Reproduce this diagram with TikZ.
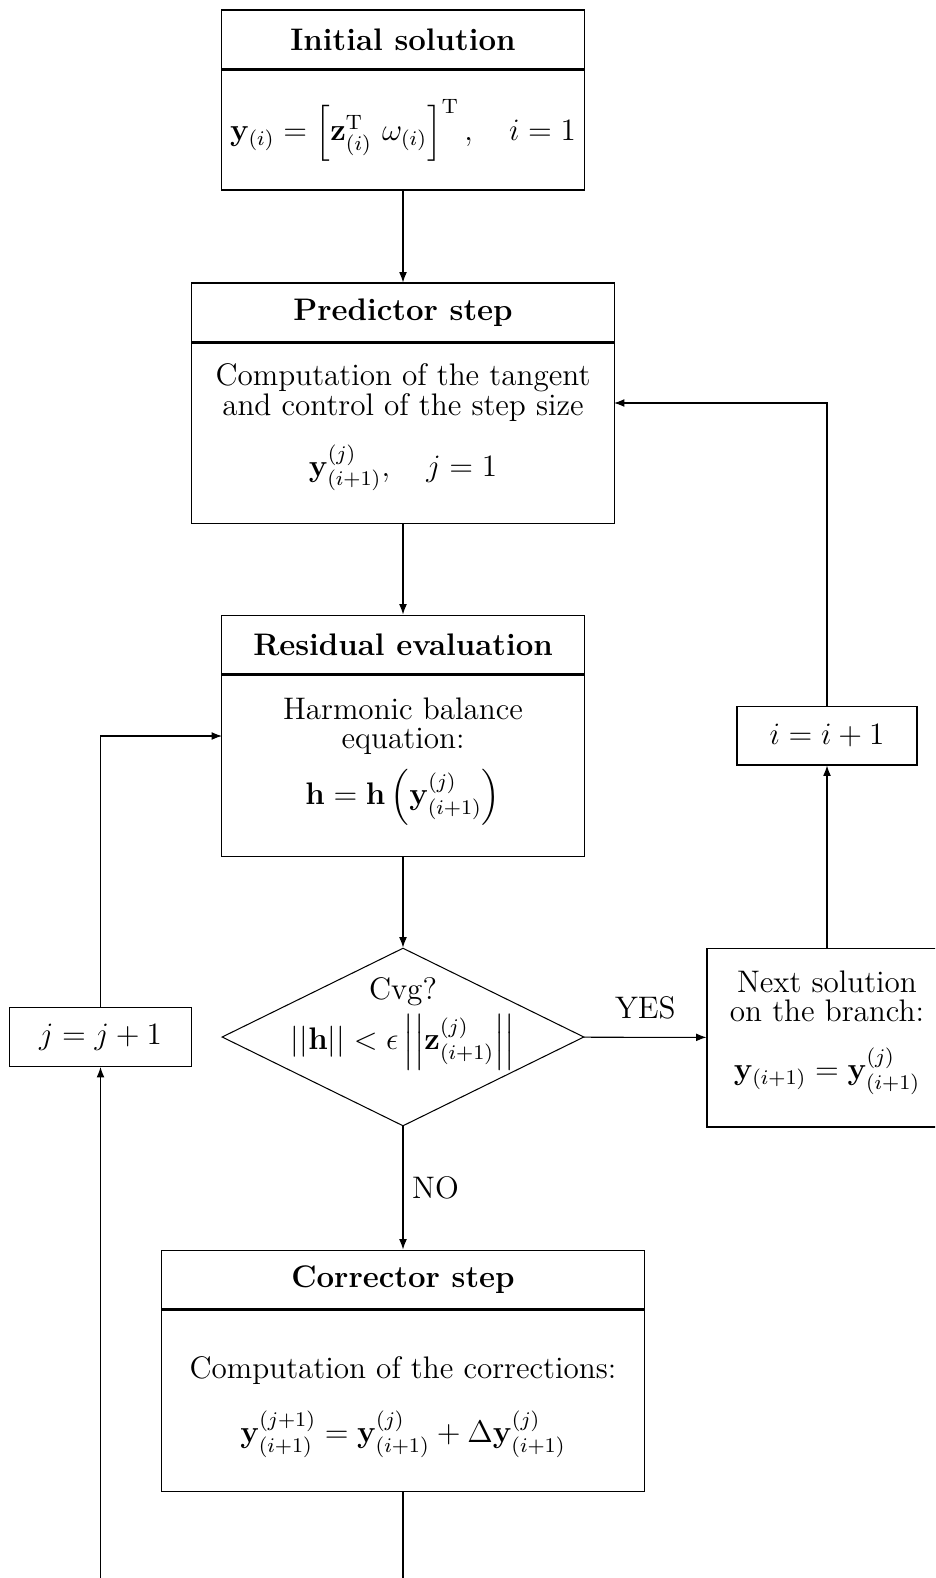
\documentclass[tikz,border=0pt]{standalone}
\usepackage{amsmath, amssymb}
\usetikzlibrary{shapes.geometric, positioning, arrows.meta}
\newcommand{\flowfont}{\fontsize{12}{11.2}\selectfont}
\tikzset{
	head/.style = {draw, minimum width=#1, minimum height=22.7pt, inner sep=0pt, font=\flowfont\bfseries},
	body/.style = {draw, minimum width=#1, align=center, inner sep=0pt},
	plain box/.style = {draw, minimum width=#1, minimum height=22.7pt, inner sep=0pt},
	decision/.style = {draw, diamond, minimum width=139.4pt, minimum height=68.5pt, inner sep=0pt},
	flow/.style = {draw, -{Latex[length=4pt, width=3pt]}},
}

\begin{document}
\begin{tikzpicture}[x=0.385pt, y=-0.385pt, font=\flowfont]
	\useasboundingbox (0, 0) rectangle (935, 1578);
	\clip (0, 0) rectangle (935, 1578);

	% main column
	\node[head=139.4pt] (initT) at (403, 39.5) {Initial solution};
	\node[body=139.4pt, minimum height=46.2pt, below=0pt of initT] (initB)
		{$\mathbf{y}_{(i)} = \left[\mathbf{z}^{\mathrm{T}}_{(i)}\ \omega_{(i)}\right]^{\mathrm{T}}, \quad i = 1$};

	\node[head=162.5pt] (predT) at (403, 312.5) {Predictor step};
	\node[body=162.5pt, minimum height=69.3pt, below=0pt of predT] (predB)
		{Computation of the tangent\\ and control of the step size\\[8pt]
		$\mathbf{y}^{(j)}_{(i+1)}, \quad j = 1$\rule[-10pt]{0pt}{10pt}};

	\node[head=139.4pt] (resT) at (403, 644.5) {Residual evaluation};
	\node[body=139.4pt, minimum height=69.7pt, below=0pt of resT] (resB)
		{Harmonic balance\\ equation:\\[4.5pt]
		$\mathbf{h} = \mathbf{h}\left(\mathbf{y}^{(j)}_{(i+1)}\right)$\rule[-11pt]{0pt}{11pt}};

	\node[decision] (cvg) at (403, 1037) {};
	\node[align=center] (cvgText) at (403, 1024)
		{Cvg?\\[2pt] $||\mathbf{h}|| < \epsilon \left|\left|\mathbf{z}^{(j)}_{(i+1)}\right|\right|$};

	\node[head=185.6pt] (corT) at (403, 1279.5) {Corrector step};
	\node[body=185.6pt, minimum height=69.7pt, below=0pt of corT] (corB)
		{\rule{0pt}{13.5pt}Computation of the corrections:\\[9pt]
		$\mathbf{y}^{(j+1)}_{(i+1)} = \mathbf{y}^{(j)}_{(i+1)} + \Delta\mathbf{y}^{(j)}_{(i+1)}$};

	% side boxes
	\node[body=92.4pt, minimum height=68.9pt] (next) at (827, 1037.5)
		{Next solution\\ on the branch:\\[9pt]
		$\mathbf{y}_{(i+1)} = \mathbf{y}^{(j)}_{(i+1)}$\rule[-9.5pt]{0pt}{9.5pt}};
	\node[plain box=69.3pt] (inci) at (827, 735.5) {$i = i + 1$};
	\node[plain box=69.7pt] (incj) at (100.5, 1037) {$j = j + 1$};

	\coordinate (predIn) at (614, 403);
	\coordinate (resIn) at (222, 736);

	\draw[flow] (initB) -- (predT);
	\draw[flow] (predB) -- (resT);
	\draw[flow] (resB) -- (cvg);
	\draw[flow] (cvg) -- node[above=3.5pt] {YES} (next);
	\draw[flow] (cvg) -- node[right] {NO} (corT);
	\draw[flow] (next) -- (inci);
	\draw[flow] (inci) |- (predIn);
	\draw[flow] (incj) |- (resIn);
	\draw[flow] (corB.south) -- ++(0, 150) -| (incj.south);
\end{tikzpicture}
\end{document}
